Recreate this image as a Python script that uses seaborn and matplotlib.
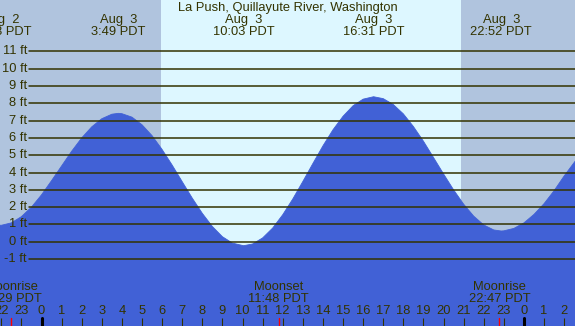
import matplotlib
matplotlib.use("Agg")
import matplotlib.pyplot as plt
import matplotlib.transforms as mtransforms
import seaborn as sns
import pandas as pd

# ---- data ----
hours = [-2.5, -2.0, -1.5, -1.0, -0.5, 0, 0.5, 1, 1.5, 2, 2.5, 3, 3.5, 3.82,
         4, 4.5, 5, 5.5, 6, 6.5, 7, 7.5, 8, 8.5, 9, 9.5, 10.05,
         10.5, 11, 11.5, 12, 12.5, 13, 13.5, 14, 14.5, 15, 15.5, 16, 16.52,
         17, 17.5, 18, 18.5, 19, 19.5, 20, 20.5, 21, 21.5, 22, 22.5, 22.87,
         23, 23.5, 24, 24.5, 25, 25.5, 26, 26.5, 27]
heights = [0.98, 0.95, 1.09, 1.45, 2.00, 2.71, 3.53, 4.38, 5.23, 6.00, 6.64, 7.11, 7.37, 7.42,
           7.40, 7.20, 6.76, 6.13, 5.33, 4.43, 3.47, 2.52, 1.64, 0.88, 0.29, -0.08, -0.23,
           -0.13, 0.22, 0.79, 1.56, 2.47, 3.48, 4.52, 5.54, 6.47, 7.25, 7.86, 8.24, 8.38,
           8.27, 7.93, 7.39, 6.66, 5.81, 4.87, 3.92, 3.00, 2.17, 1.48, 0.97, 0.68, 0.62,
           0.63, 0.77, 1.09, 1.58, 2.20, 2.95, 3.80, 4.58, 5.35]

ft_levels = [-1, 0, 1, 2, 3, 4, 5, 6, 7, 8, 9, 10, 11]
ft_labels = ["-1 ft", "0 ft", "1 ft", "2 ft", "3 ft", "4 ft", "5 ft", "6 ft",
             "7 ft", "8 ft", "9 ft", "10 ft", "11 ft"]

hour_ticks = list(range(-2, 27))
hour_labels = ["22", "23", "0", "1", "2", "3", "4", "5", "6", "7", "8", "9", "10",
               "11", "12", "13", "14", "15", "16", "17", "18", "19", "20", "21",
               "22", "23", "0", "1", "2"]
midnights = [0, 24]

tide_event_hours = [-2.04, 3.82, 10.05, 16.52, 22.87]
tide_event_dates = ["Aug  2", "Aug  3", "Aug  3", "Aug  3", "Aug  3"]
tide_event_times = ["21:58 PDT", "3:49 PDT", "10:03 PDT", "16:31 PDT", "22:52 PDT"]

moon_event_hours = [-1.52, 11.8, 22.78]
moon_event_names = ["Moonrise", "Moonset", "Moonrise"]
moon_event_times = ["22:29 PDT", "11:48 PDT", "22:47 PDT"]

sunrise, sunset = 5.95, 20.87
title = "La Push, Quillayute River, Washington"

# ---- style ----
W, H = 575, 326
night = "#b0c4de"
day = "#ddf7ff"
water = "#4161d6"
ink = "#333300"

sns.set_style("white")
plt.rcParams["font.family"] = ["Liberation Sans", "DejaVu Sans"]
plt.rcParams["font.size"] = 9.3

fig = plt.figure(figsize=(W / 100, H / 100), dpi=100)
ax = fig.add_axes([0, 0, 1, 1])
ax.set_xlim(-2.065, 26.54)
ax.set_ylim(-4.87, 13.97)
ax.set_facecolor(night)
for s in ax.spines.values():
    s.set_visible(False)

ax.axvspan(sunrise, sunset, color=day, lw=0, zorder=0.5)

df = pd.DataFrame({"hour": hours, "height": heights})
sns.lineplot(data=df, x="hour", y="height", color=water, lw=0.6, ax=ax, zorder=1.6)
ax.fill_between(df["hour"], df["height"], -10, color=water, lw=0, zorder=1.5)

bl = mtransforms.blended_transform_factory(ax.transAxes, ax.transData)
for v, lab in zip(ft_levels, ft_labels):
    ax.axhline(v, xmin=29 / W, xmax=1, color=ink, lw=1.1, zorder=3)
    ax.text(27 / W, v, lab, transform=bl, ha="right", va="center", color=ink, zorder=4)

# hour ticks along the bottom
ax.set_xticks(hour_ticks)
ax.set_yticks([])
ax.tick_params(axis="x", direction="in", length=5.8, width=0.8, color=ink,
               labelbottom=False, bottom=True)
ax.set_axisbelow(False)
ax.set_xlabel("")
ax.set_ylabel("")

bx = mtransforms.blended_transform_factory(ax.transData, ax.transAxes)
for h, lab in zip(hour_ticks, hour_labels):
    ax.text(h, 1 - 311.5 / H, lab, transform=bx, ha="center", va="center", color=ink)
for m in midnights:
    ax.axvline(m, ymin=0, ymax=8.5 / H, color="black", lw=2.2, zorder=4)
for h, name, t in zip(moon_event_hours, moon_event_names, moon_event_times):
    ax.axvline(h, ymin=0, ymax=8.5 / H, color="red", lw=1.0, zorder=4)
    ax.text(h, 1 - 287.5 / H, name, transform=bx, ha="center", va="center", color=ink)
    ax.text(h, 1 - 299.5 / H, t, transform=bx, ha="center", va="center", color=ink)

for h, d, t in zip(tide_event_hours, tide_event_dates, tide_event_times):
    ax.text(h, 1 - 19.5 / H, d, transform=bx, ha="center", va="center", color=ink)
    ax.text(h, 1 - 32 / H, t, transform=bx, ha="center", va="center", color=ink)

fig.text(0.5, 1 - 7.5 / H, title, ha="center", va="center", color=ink)

fig.savefig("out.png", dpi=100)
